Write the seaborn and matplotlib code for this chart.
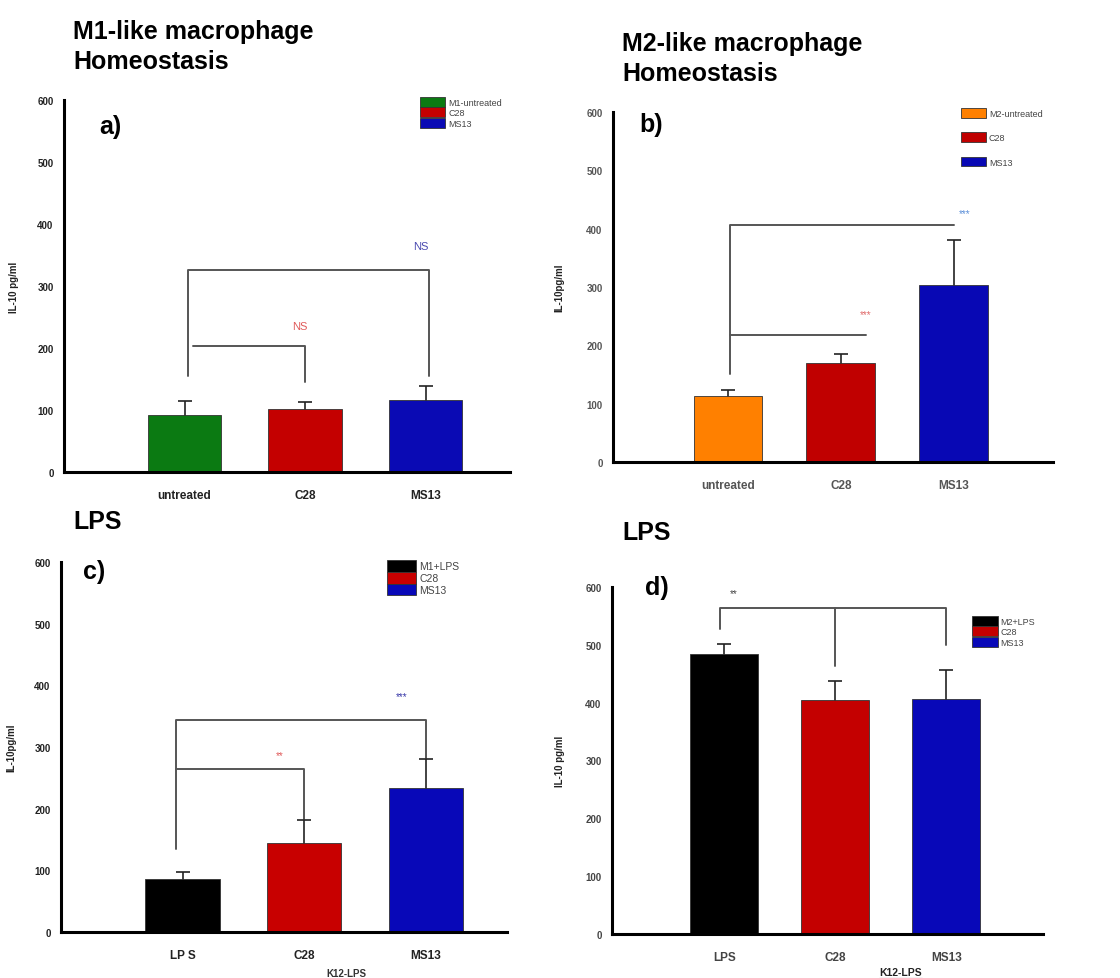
import matplotlib
matplotlib.use("Agg")
import matplotlib.pyplot as plt
import seaborn as sns
import pandas as pd
from matplotlib.lines import Line2D

sns.set_theme(style="white")
plt.rcParams['font.family'] = ['Liberation Sans', 'DejaVu Sans']
plt.rcParams['text.color'] = 'black'
plt.rcParams['axes.labelcolor'] = '#222222'

# ---------------- data ----------------
cats_a = ["untreated", "C28", "MS13"]
vals_a = [92, 101, 116]
err_a = [23, 12, 23]
leg_a = ["M1-untreated", "C28", "MS13"]

cats_b = ["untreated", "C28", "MS13"]
vals_b = [113, 169, 304]
err_b = [10, 16, 77]
leg_b = ["M2-untreated", "C28", "MS13"]

cats_c = ["LP S", "C28", "MS13"]
vals_c = [86, 145, 233]
err_c = [12, 37, 47]
leg_c = ["M1+LPS", "C28", "MS13"]

cats_d = ["LPS", "C28", "MS13"]
vals_d = [485, 405, 407]
err_d = [17, 32, 50]
leg_d = ["M2+LPS", "C28", "MS13"]

yticks = [0, 100, 200, 300, 400, 500, 600]

pal_a = ["#0b7a12", "#c40000", "#0a0ab4"]
pal_b = ["#ff8000", "#c00000", "#0808b4"]
pal_c = ["#000000", "#c80000", "#0808b8"]
pal_d = ["#000000", "#c40000", "#0808b8"]

W, H = 1120, 979
fig = plt.figure(figsize=(W / 100, H / 100), dpi=100)
fig.patch.set_facecolor("white")


def px_axes(left, right, top, bottom):
    return fig.add_axes([left / W, (H - bottom) / H, (right - left) / W, (bottom - top) / H])


def panel(ax, cats, vals, errs, pal, legend_labels, xlim, ylabel, tickcol, leg_kw, legfs=6.5):
    df = pd.DataFrame({"cat": cats, "val": vals})
    sns.barplot(data=df, x="cat", y="val", hue="cat", palette=pal, order=cats,
                hue_order=cats, width=0.61, edgecolor="#333333", linewidth=0.6,
                saturation=1, legend=True, ax=ax, errorbar=None, zorder=2)
    ax.errorbar(range(len(cats)), vals, yerr=[errs, errs], fmt="none",
                ecolor="#222222", elinewidth=1.2, capsize=5, capthick=1.2, zorder=1)
    ax.set_ylim(0, 600)
    ax.set_xlim(*xlim)
    ax.set_yticks(yticks)
    ax.set_xlabel("")
    ax.set_ylabel(ylabel, fontsize=7, fontweight="bold", color="#222222")
    for s in ["top", "right"]:
        ax.spines[s].set_visible(False)
    for s in ["left", "bottom"]:
        ax.spines[s].set_color("black")
        ax.spines[s].set_linewidth(2.2)
        ax.spines[s].set_zorder(3)
    ax.tick_params(axis="both", direction="out", length=4, width=1, colors="#333333",
                   labelcolor=tickcol, labelsize=7)
    ax.tick_params(axis="x", labelsize=8.5, pad=8)
    for lbl in ax.get_xticklabels():
        lbl.set_fontweight("bold")
    for lbl in ax.get_yticklabels():
        lbl.set_fontweight("bold")
    handles, _ = ax.get_legend_handles_labels()
    ax.legend(handles, legend_labels, frameon=False, fontsize=legfs, handlelength=2.8,
              handleheight=1.3, handletextpad=0.3, labelcolor="#444444", **leg_kw)


def bracket(ax, x0, x1, y, leg0, leg1, color="#555555"):
    ax.plot([x0, x0, x1, x1], [leg0, y, y, leg1], color=color, lw=1.4, zorder=0.5)


# ---------------- panel a ----------------
ax_a = px_axes(64, 510, 101, 473)
panel(ax_a, cats_a, vals_a, err_a, pal_a, leg_a, (-1.0, 2.7), "IL-10 pg/ml", "#222222",
      dict(loc="upper right", bbox_to_anchor=(1.0, 1.03), labelspacing=0.05))
ax_a.yaxis.set_label_coords(-0.1, 0.5)
bracket(ax_a, 0.03, 2.03, 326, 155, 155)
bracket(ax_a, 0.07, 1.0, 203, 203, 145)
ax_a.text(1.96, 365, "NS", color="#4a4ab0", fontsize=8, ha="center", va="center")
ax_a.text(0.96, 236, "NS", color="#e05a5a", fontsize=8, ha="center", va="center")
ax_a.text(0.08, 0.93, "a)", transform=ax_a.transAxes, fontsize=18, fontweight="bold",
          ha="left", va="center")

# ---------------- panel b ----------------
ax_b = px_axes(613, 1053, 113, 463)
panel(ax_b, cats_b, vals_b, err_b, pal_b, leg_b, (-1.02, 2.88), "IL-10pg/ml", "#555555",
      dict(loc="upper right", bbox_to_anchor=(0.995, 1.035), labelspacing=1.6))
ax_b.yaxis.set_label_coords(-0.11, 0.5)
bracket(ax_b, 0.02, 2.0, 406, 151, 406)
bracket(ax_b, 0.02, 1.22, 217, 217, 217)
ax_b.text(2.1, 426, "***", color="#5b8fd8", fontsize=7, ha="center", va="center")
ax_b.text(1.22, 254, "***", color="#e06a6a", fontsize=7, ha="center", va="center")
ax_b.text(0.06, 0.966, "b)", transform=ax_b.transAxes, fontsize=18, fontweight="bold",
          ha="left", va="center")

# ---------------- panel c ----------------
ax_c = px_axes(61, 507, 563, 933)
panel(ax_c, cats_c, vals_c, err_c, pal_c, leg_c, (-1.0, 2.67), "IL-10pg/ml", "#222222",
      dict(loc="upper right", bbox_to_anchor=(0.915, 1.03), labelspacing=0.05), legfs=7.5)
ax_c.yaxis.set_label_coords(-0.1, 0.5)
bracket(ax_c, -0.05, 2.0, 343, 135, 282)
bracket(ax_c, -0.05, 1.0, 265, 265, 184)
ax_c.text(1.8, 382, "***", color="#3838a8", fontsize=7, ha="center", va="center")
ax_c.text(0.8, 287, "**", color="#e05a5a", fontsize=7, ha="center", va="center")
ax_c.text(0.05, 0.976, "c)", transform=ax_c.transAxes, fontsize=18, fontweight="bold",
          ha="left", va="center")
t_c = ax_c.text(0.64, -0.11, "K12-LPS", transform=ax_c.transAxes, fontsize=7,
                fontweight="bold", ha="center", va="center", color="#333333")

# ---------------- panel d ----------------
ax_d = px_axes(612, 1043, 588, 935)
panel(ax_d, cats_d, vals_d, err_d, pal_d, leg_d, (-1.01, 2.87), "IL-10 pg/ml", "#444444",
      dict(loc="upper right", bbox_to_anchor=(1.0, 0.94), labelspacing=0.05))
ax_d.yaxis.set_label_coords(-0.11, 0.5)
ax_d.plot([-0.04, -0.04, 2.0, 2.0], [527, 564, 564, 499], color="#555555", lw=1.4, zorder=0.5)
ax_d.plot([1.0, 1.0], [564, 464], color="#555555", lw=1.4, zorder=0.5)
ax_d.text(0.09, 589, "**", color="#444444", fontsize=7, ha="center", va="center")
ax_d.text(0.077, 1.0, "d)", transform=ax_d.transAxes, fontsize=18, fontweight="bold",
          ha="left", va="center")
t_d = ax_d.text(0.67, -0.11, "K12-LPS", transform=ax_d.transAxes, fontsize=7.5,
                fontweight="bold", ha="center", va="center", color="#222222")

# ---------------- titles ----------------
fig.text(73 / W, 1 - 20 / H, "M1-like macrophage\nHomeostasis", fontsize=18,
         fontweight="bold", ha="left", va="top", linespacing=1.3)
fig.text(622 / W, 1 - 32 / H, "M2-like macrophage\nHomeostasis", fontsize=18,
         fontweight="bold", ha="left", va="top", linespacing=1.3)
fig.text(73 / W, 1 - 522 / H, "LPS", fontsize=18, fontweight="bold", ha="left", va="center")
fig.text(622 / W, 1 - 533 / H, "LPS", fontsize=18, fontweight="bold", ha="left", va="center")

# underline the K12-LPS labels
fig.canvas.draw()
renderer = fig.canvas.get_renderer()
for t in (t_c, t_d):
    bb = t.get_window_extent(renderer)
    yline = (bb.y0 - 1) / H
    fig.add_artist(Line2D([bb.x0 / W, bb.x1 / W], [yline, yline], color="#333333", lw=0.8))

fig.savefig("out.png", dpi=100, facecolor="white")
